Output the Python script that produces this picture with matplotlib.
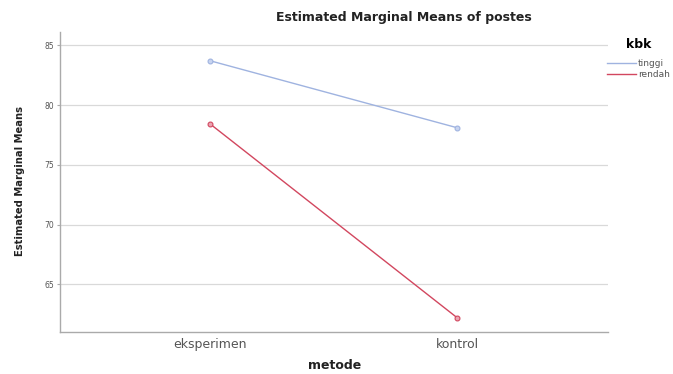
import matplotlib
matplotlib.use("Agg")
import matplotlib.pyplot as plt
from matplotlib.lines import Line2D

metode = ["eksperimen", "kontrol"]
tinggi = [83.7, 78.1]
rendah = [78.4, 62.2]
yticks = [65, 70, 75, 80, 85]

fig = plt.figure(figsize=(6.73, 3.74), dpi=100)
ax = fig.add_axes([0.089, 0.112, 0.814, 0.802])

x = range(len(metode))
ax.plot(x, tinggi, color="#9fb3e0", lw=1.0, marker="o", ms=3.5,
        mfc="#c8d4f0", mec="#9fb3e0", mew=0.8)
ax.plot(x, rendah, color="#d2475f", lw=1.0, marker="o", ms=3.5,
        mfc="#eaa5b2", mec="#d2475f", mew=0.8)

ax.set_xlim(-0.61, 1.61)
ax.set_ylim(61.0, 86.1)
ax.set_xticks(list(x))
ax.set_xticklabels(metode, fontsize=9, color="#555555")
ax.set_yticks(yticks)
ax.set_yticklabels([str(v) for v in yticks], fontsize=5.5, color="#555555")
ax.tick_params(axis="both", length=2, color="#aaaaaa", pad=2)
ax.tick_params(axis="x", length=0, pad=4)

ax.grid(axis="y", color="#d9d9d9", lw=0.9)
ax.set_axisbelow(True)
for s in ["top", "right"]:
    ax.spines[s].set_visible(False)
for s in ["left", "bottom"]:
    ax.spines[s].set_color("#aaaaaa")
    ax.spines[s].set_linewidth(1.0)

fig.text(0.6, 0.952, "Estimated Marginal Means of postes", ha="center",
         va="center", fontsize=9, fontweight="bold", color="#222222")
fig.text(0.03, 0.515, "Estimated Marginal Means", rotation=90, ha="center",
         va="center", fontsize=7.2, fontweight="bold", color="#222222")
fig.text(0.497, 0.022, "metode", ha="center", va="center", fontsize=9,
         fontweight="bold", color="#222222")

handles = [Line2D([], [], color="#9fb3e0", lw=1.0),
           Line2D([], [], color="#d2475f", lw=1.0)]
leg = fig.legend(handles, ["tinggi", "rendah"], title="kbk",
                 loc="upper left", bbox_to_anchor=(0.893, 0.915),
                 frameon=False, fontsize=6.5, title_fontsize=9,
                 handlelength=3.2, handletextpad=0.2, labelspacing=0.15,
                 borderpad=0.2)
leg.get_title().set_fontweight("bold")
leg._legend_box.sep = 6
for t in leg.get_texts():
    t.set_color("#555555")

fig.savefig("out.png", dpi=100)
